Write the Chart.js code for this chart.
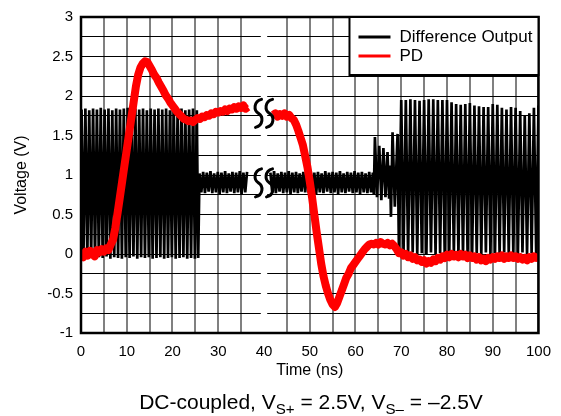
<!DOCTYPE html>
<html>
<head>
<meta charset="utf-8">
<script src="https://cdn.jsdelivr.net/npm/chart.js@4/dist/chart.umd.min.js"></script>
<style>
  html, body { margin: 0; padding: 0; background: #fff; }
  #wrap { position: relative; width: 561px; height: 416px; }
  #caption {
    position: absolute; left: 61px; width: 500px; top: 390px;
    text-align: center; font: 21px "Liberation Sans", Arial, sans-serif;
    line-height: 24px; color: #000; white-space: nowrap;
  }
  #caption sub { font-size: 72%; vertical-align: -0.3em; line-height: 0; }
</style>
</head>
<body>
<div id="wrap">
  <canvas id="chart" width="561" height="416"></canvas>
  <div id="caption">DC-coupled, V<sub>S+</sub> = 2.5V, V<sub>S–</sub> = –2.5V</div>
</div>
<script>
// axis setup
const xRange = [0, 100];
const yRange = [-1, 3];
const xTickStep = 5;
const xLabelStep = 10;
const yTickStep = 0.25;
const yLabelStep = 0.5;
const gridGap = [39.3, 40.7];      // time span where the trace is cut
const breakMarks = [[40, 1.78], [40, 0.90]];

// Difference Output (black) - [time ns, volts]
const diffSegA = [
  [0.12,1.83],[0.54,-0.04],[0.96,1.84],[1.38,-0.05],[1.80,1.82],[2.22,-0.03],[2.64,1.84],[3.06,-0.06],
  [3.48,1.83],[3.90,-0.04],[4.32,1.85],[4.74,-0.05],[5.16,1.83],[5.58,-0.03],[6.00,1.84],[6.42,-0.06],
  [6.84,1.82],[7.26,-0.04],[7.68,1.84],[8.10,-0.05],[8.52,1.83],[8.94,-0.06],[9.36,1.84],[9.78,-0.04],
  [10.20,1.85],[10.62,-0.05],[11.04,1.83],[11.46,-0.03],[11.88,1.84],[12.30,-0.06],[12.72,1.83],[13.14,-0.04],
  [13.56,1.84],[13.98,-0.05],[14.40,1.82],[14.82,-0.04],[15.24,1.84],[15.66,-0.06],[16.08,1.83],[16.50,-0.05],
  [16.92,1.84],[17.34,-0.04],[17.76,1.83],[18.18,-0.06],[18.60,1.84],[19.02,-0.05],[19.44,1.82],[19.86,-0.04],
  [20.28,1.84],[20.70,-0.06],[21.12,1.83],[21.54,-0.05],[21.96,1.84],[22.38,-0.04],[22.80,1.82],[23.22,-0.06],
  [23.64,1.83],[24.06,-0.05],[24.48,1.84],[24.90,-0.06],[25.32,1.82],[25.62,-0.05]
];
const diffSegB = [
  [25.9,1.02],[26.3,0.78],[26.7,1.04],[27.1,0.77],[27.5,1.03],[27.9,0.79],[28.3,1.05],[28.7,0.77],
  [29.1,1.02],[29.5,0.78],[29.9,1.04],[30.3,0.76],[30.7,1.03],[31.1,0.78],[31.5,1.05],[31.9,0.77],
  [32.3,1.02],[32.7,0.79],[33.1,1.04],[33.5,0.77],[33.9,1.03],[34.3,0.78],[34.7,1.05],[35.1,0.76],
  [35.5,1.03],[35.9,0.78],[36.3,1.04]
];
const diffSegC = [
  [41.4,1.03],[41.8,0.78],[42.2,1.05],[42.6,0.77],[43.0,1.02],[43.4,0.79],[43.8,1.04],[44.2,0.77],
  [44.6,1.03],[45.0,0.78],[45.4,1.05],[45.8,0.76],[46.2,1.03],[46.6,0.78],[47.0,1.04],[47.4,0.77],
  [47.8,1.02],[48.2,0.79],[48.6,1.04],[49.0,0.78],[49.4,1.03],[49.8,0.77],[50.2,1.05],[50.6,0.78],
  [51.0,1.03],[51.4,0.76],[51.8,1.04],[52.2,0.78],[52.6,1.02],[53.0,0.77],[53.4,1.05],[53.8,0.79],
  [54.2,1.03],[54.6,0.77],[55.0,1.04],[55.4,0.78],[55.8,1.03],[56.2,0.76],[56.6,1.05],[57.0,0.78],
  [57.4,1.02],[57.8,0.77],[58.2,1.04],[58.6,0.79],[59.0,1.03],[59.4,0.77],[59.8,1.05],[60.2,0.78],
  [60.6,1.03],[61.0,0.76],[61.4,1.04],[61.8,0.78],[62.2,1.02],[62.6,0.77],[63.0,1.04],[63.4,0.78],
  [63.8,1.03],
  [64.0,0.76],[64.25,1.48],[64.7,0.72],[65.2,1.37],[65.65,0.68],[66.1,1.34],[66.55,0.72],[67.0,1.29],
  [67.35,0.70],[67.55,1.12],[67.75,0.47],[68.1,1.54],[68.6,0.60],[69.2,1.52],[69.5,0.01]
];
const diffSegD = [
  [70,1.95],[70.5,0.01],[71,1.95],[71.5,-0.01],[72,1.96],[72.5,0.02],[73,1.95],[73.5,0.00],
  [74,1.94],[74.5,0.01],[75,1.95],[75.5,-0.01],[76,1.96],[76.5,0.02],[77,1.96],[77.5,0.00],
  [78,1.95],[78.5,0.01],[79,1.95],[79.5,-0.01],[80,1.95],[80.5,0.02],[81,1.92],[81.5,0.00],
  [82,1.90],[82.5,0.01],[83,1.89],[83.5,-0.01],[84,1.90],[84.5,0.02],[85,1.91],[85.5,0.00],
  [86,1.88],[86.5,0.01],[87,1.87],[87.5,-0.01],[88,1.86],[88.5,0.02],[89,1.86],[89.5,0.00],
  [90,1.90],[90.5,0.01],[91,1.89],[91.5,-0.01],[92,1.85],[92.5,0.02],[93,1.83],[93.5,0.00],
  [94,1.86],[94.5,0.01],[95,1.85],[95.5,-0.01],[96,1.81],[96.5,0.02],[97,1.76],[97.5,0.00],
  [98,1.78],[98.5,0.01],[99,1.85],[99.5,-0.01],[100,1.88]
];

// PD (red) - [time ns, volts]
const pdBefore = [
  [0,0.00],[0.5,-0.04],[1,0.03],[1.5,-0.02],[2,0.04],[2.5,0.00],[3,-0.03],[3.5,0.05],
  [4,0.02],[4.5,0.06],[5,0.03],[5.5,0.07],[6,0.05],[6.5,0.12],[7,0.18],[7.5,0.33],
  [8,0.52],[8.5,0.72],[9,0.92],[9.5,1.12],[10,1.32],[10.5,1.52],[11,1.72],[11.5,1.92],
  [12,2.12],[12.5,2.27],[13,2.36],[13.5,2.41],[14,2.44],[14.5,2.43],[15,2.38],[15.5,2.33],
  [16,2.27],[16.5,2.23],[17,2.17],[17.5,2.12],[18,2.07],[18.5,2.01],[19,1.97],[19.5,1.92],
  [20,1.88],[20.5,1.84],[21,1.80],[21.5,1.77],[22,1.74],[22.5,1.71],[23,1.70],[23.5,1.68],
  [24,1.69],[24.5,1.67],[25,1.70],[25.5,1.72],[26,1.71],[26.5,1.74],[27,1.73],[27.5,1.76],
  [28,1.75],[28.5,1.78],[29,1.77],[29.5,1.80],[30,1.79],[30.5,1.81],[31,1.80],[31.5,1.83],
  [32,1.81],[32.5,1.84],[33,1.83],[33.5,1.86],[34,1.84],[34.5,1.87],[35,1.85],[35.5,1.88],
  [36,1.84],[36.5,1.86]
];
const pdAfter = [
  [42,1.76],[42.5,1.78],[43,1.74],[43.5,1.77],[44,1.75],[44.5,1.78],[45,1.74],[45.5,1.76],
  [46,1.72],[46.5,1.70],[47,1.64],[47.5,1.56],[48,1.47],[48.5,1.38],[49,1.24],[49.5,1.10],
  [50,0.92],[50.5,0.72],[51,0.50],[51.5,0.28],[52,0.08],[52.5,-0.12],[53,-0.28],[53.5,-0.40],
  [54,-0.50],[54.5,-0.58],[55,-0.64],[55.5,-0.67],[56,-0.62],[56.5,-0.54],[57,-0.46],[57.5,-0.38],
  [58,-0.30],[58.5,-0.25],[59,-0.18],[59.5,-0.14],[60,-0.10],[60.5,-0.06],[61,-0.02],[61.5,0.02],
  [62,0.06],[62.5,0.09],[63,0.12],[63.5,0.13],[64,0.12],[64.5,0.14],[65,0.12],[65.5,0.15],
  [66,0.13],[66.5,0.12],[67,0.14],[67.5,0.11],[68,0.13],[68.5,0.10],[69,0.06],[69.5,0.01],
  [70,0.02],[70.5,-0.02],[71,0.00],[71.5,-0.04],[72,-0.02],[72.5,-0.06],[73,-0.04],[73.5,-0.08],
  [74,-0.07],[74.5,-0.10],[75,-0.08],[75.5,-0.12],[76,-0.09],[76.5,-0.11],[77,-0.07],[77.5,-0.09],
  [78,-0.05],[78.5,-0.07],[79,-0.03],[79.5,-0.05],[80,-0.01],[80.5,-0.04],[81,0.00],[81.5,-0.03],
  [82,-0.01],[82.5,-0.04],[83,0.00],[83.5,-0.03],[84,-0.01],[84.5,-0.05],[85,-0.02],[85.5,-0.05],
  [86,-0.03],[86.5,-0.07],[87,-0.04],[87.5,-0.08],[88,-0.06],[88.5,-0.09],[89,-0.05],[89.5,-0.07],
  [90,-0.04],[90.5,-0.06],[91,-0.03],[91.5,-0.05],[92,-0.02],[92.5,-0.06],[93,-0.03],[93.5,-0.05],
  [94,-0.02],[94.5,-0.05],[95,-0.03],[95.5,-0.06],[96,-0.04],[96.5,-0.07],[97,-0.05],[97.5,-0.08],
  [98,-0.04],[98.5,-0.06],[99,-0.03],[99.5,-0.05],[100,-0.03]
];

const FONT = '"Liberation Sans", Arial, sans-serif';
const toXY = arr => arr.map(p => ({ x: p[0], y: p[1] }));
const cut = { x: 39, y: null };

const diffData = [...toXY(diffSegA), ...toXY(diffSegB), cut, ...toXY(diffSegC), ...toXY(diffSegD)];
const pdData = [...toXY(pdBefore), cut, ...toXY(pdAfter)];

// white out the grid where the time axis is broken
const gapPlugin = {
  id: 'gap',
  beforeDatasetsDraw(chart) {
    const { ctx, chartArea: a, scales: { x } } = chart;
    const x0 = x.getPixelForValue(gridGap[0]);
    const x1 = x.getPixelForValue(gridGap[1]);
    ctx.save();
    ctx.fillStyle = '#fff';
    ctx.fillRect(x0, a.top + 2, x1 - x0, a.bottom - a.top - 4);
    ctx.restore();
  }
};

// break marks, plot frame and legend box
const framePlugin = {
  id: 'frame',
  afterDatasetsDraw(chart) {
    const { ctx, chartArea: a, scales: { x, y } } = chart;
    ctx.save();

    // wiggle marks
    ctx.strokeStyle = '#000';
    ctx.lineWidth = 3;
    ctx.lineCap = 'round';
    breakMarks.forEach(m => {
      const cx = x.getPixelForValue(m[0]);
      const cy = y.getPixelForValue(m[1]);
      [-5.5, 5.5].forEach(dx => {
        const c = cx + dx;
        ctx.beginPath();
        ctx.moveTo(c + 3, cy - 14);
        ctx.bezierCurveTo(c - 5, cy - 12, c - 5, cy - 3, c, cy);
        ctx.bezierCurveTo(c + 5, cy + 3, c + 5, cy + 12, c - 3, cy + 14);
        ctx.stroke();
      });
    });

    // frame
    ctx.lineWidth = 2.5;
    ctx.lineCap = 'butt';
    ctx.strokeRect(a.left, a.top, a.right - a.left, a.bottom - a.top);

    // legend
    const lx = a.right - 189, ly = a.top, lw = 189, lh = 58;
    ctx.fillStyle = '#fff';
    ctx.fillRect(lx, ly, lw, lh);
    ctx.lineWidth = 2;
    ctx.strokeRect(lx, ly, lw, lh);
    const items = [['Difference Output', '#000'], ['PD', '#ff0000']];
    ctx.font = '17px ' + FONT;
    ctx.textBaseline = 'middle';
    items.forEach((it, i) => {
      const yy = ly + 20 + i * 19;
      ctx.strokeStyle = it[1];
      ctx.lineWidth = 3;
      ctx.beginPath();
      ctx.moveTo(lx + 9, yy);
      ctx.lineTo(lx + 41, yy);
      ctx.stroke();
      ctx.fillStyle = '#000';
      ctx.fillText(it[0], lx + 50, yy);
    });
    ctx.restore();
  }
};

new Chart(document.getElementById('chart'), {
  type: 'line',
  data: {
    datasets: [
      {
        label: 'Difference Output',
        data: diffData,
        borderColor: '#000',
        borderWidth: 2.7,
        borderJoinStyle: 'bevel',
        pointRadius: 0,
        spanGaps: false,
        order: 1
      },
      {
        label: 'PD',
        data: pdData,
        borderColor: '#ff0000',
        borderWidth: 8,
        borderJoinStyle: 'round',
        pointRadius: 0,
        spanGaps: false,
        order: 0
      }
    ]
  },
  options: {
    responsive: false,
    animation: false,
    events: [],
    layout: { padding: { left: 0, right: 20, top: 11, bottom: 33 } },
    plugins: {
      legend: { display: false },
      tooltip: { enabled: false }
    },
    scales: {
      x: {
        type: 'linear',
        min: xRange[0],
        max: xRange[1],
        afterFit: s => { s.height = 50; },
        border: { display: false },
        grid: {
          color: c => (c.tick && c.tick.value === 40) ? 'rgba(0,0,0,0)' : '#808080',
          lineWidth: 2,
          drawTicks: false
        },
        ticks: {
          stepSize: xTickStep,
          autoSkip: false,
          maxRotation: 0,
          padding: 10,
          color: '#000',
          font: { family: FONT, size: 15 },
          callback: v => (v % xLabelStep === 0 ? String(v) : '')
        },
        title: {
          display: true,
          text: 'Time (ns)',
          color: '#000',
          font: { family: FONT, size: 16 },
          padding: { top: 0, bottom: 3 }
        }
      },
      y: {
        min: yRange[0],
        max: yRange[1],
        afterFit: s => { s.width = 81; },
        border: { display: false },
        grid: { color: '#000', lineWidth: 1, drawTicks: false },
        ticks: {
          stepSize: yTickStep,
          autoSkip: false,
          padding: 8,
          color: '#000',
          font: { family: FONT, size: 15 },
          callback: v => (Number.isInteger(v / yLabelStep) ? String(v) : '')
        },
        title: {
          display: true,
          text: 'Voltage (V)',
          color: '#000',
          font: { family: FONT, size: 16 },
          padding: { top: 12, bottom: 0 }
        }
      }
    }
  },
  plugins: [gapPlugin, framePlugin]
});
</script>
</body>
</html>
